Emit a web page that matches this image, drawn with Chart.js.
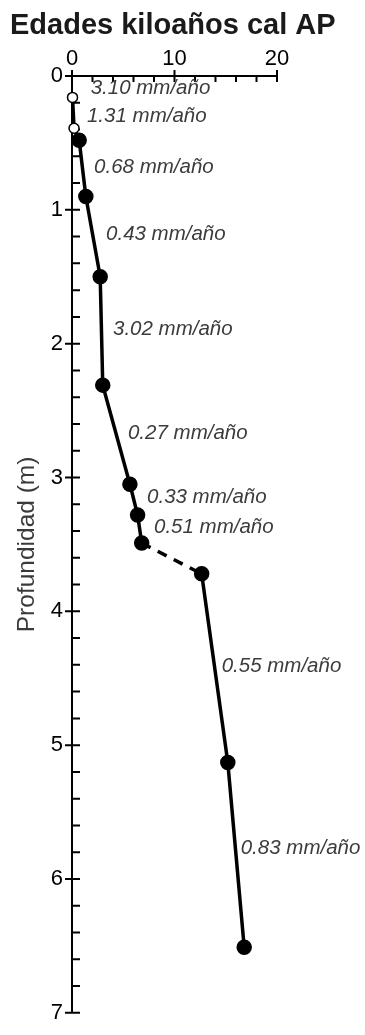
<!DOCTYPE html>
<html>
<head>
<meta charset="utf-8">
<script src="https://cdn.jsdelivr.net/npm/chart.js@4.4.0/dist/chart.umd.min.js"></script>
<style>
  html, body { margin: 0; padding: 0; background: #fff; }
  #wrap { width: 365px; height: 1035px; }
</style>
</head>
<body>
<div id="wrap"><canvas id="myChart" width="365" height="1035"></canvas></div>
<script>
'use strict';

// dated levels: age (ka cal BP) against depth (m)
var ages   = [0.05, 0.2, 0.7, 1.35, 2.75, 3.0, 5.65, 6.4, 6.8, 12.65, 15.2, 16.8];
var depths = [0.16, 0.39, 0.48, 0.9, 1.5, 2.31, 3.05, 3.28, 3.49, 3.72, 5.13, 6.51];
var openPoint = [true, true, false, false, false, false, false, false, false, false, false, false];
var gapFrom = 8; // dashed stretch starts at this point (hiatus)

// accumulation rates written next to the curve
var rates = ['3.10 mm/año', '1.31 mm/año', '0.68 mm/año', '0.43 mm/año', '3.02 mm/año',
             '0.27 mm/año', '0.33 mm/año', '0.51 mm/año', '0.55 mm/año', '0.83 mm/año'];
var rateAge   = [1.82, 1.46, 2.15, 3.32, 4.0, 5.46, 7.32, 8.0, 14.6, 16.46];
var rateDepth = [0.095, 0.30, 0.68, 1.18, 1.89, 2.67, 3.15, 3.375, 4.41, 5.77];

// labelled ticks
var ageTickLabels = [0, 10, 20];
var depthTickLabels = [0, 1, 2, 3, 4, 5, 6, 7];

var FONT = '"Liberation Sans", Arial, sans-serif';
Chart.defaults.font.family = FONT;
Chart.defaults.color = '#000';

function isLabelled(v, list) {
   var r = Math.round(v);
   return Math.abs(v - r) < 1e-6 && list.indexOf(r) >= 0;
}

//small tick marks, minor ones pointing into the plot
var tickMarks = {
   id: 'tickMarks',
   beforeDatasetsDraw: function (chart) {
      var ctx = chart.ctx, xs = chart.scales.x, ys = chart.scales.y;
      var top = chart.chartArea.top, left = chart.chartArea.left;
      ctx.save();
      ctx.strokeStyle = '#000';
      ctx.lineWidth = 2;
      ctx.beginPath();
      xs.ticks.forEach(function (t) {
         var px = xs.getPixelForValue(t.value);
         var major = isLabelled(t.value, ageTickLabels);
         ctx.moveTo(px, top - (major ? 6 : 0));
         ctx.lineTo(px, top + 6);
      });
      ys.ticks.forEach(function (t) {
         var py = ys.getPixelForValue(t.value);
         var major = isLabelled(t.value, depthTickLabels);
         ctx.moveTo(left - (major ? 7 : 0), py);
         ctx.lineTo(left + 8, py);
      });
      ctx.stroke();
      ctx.restore();
   }
};

var rateLabels = {
   id: 'rateLabels',
   afterDatasetsDraw: function (chart) {
      var ctx = chart.ctx, xs = chart.scales.x, ys = chart.scales.y;
      ctx.save();
      ctx.font = 'italic 20.5px ' + FONT;
      ctx.fillStyle = '#3c3c3c';
      ctx.textAlign = 'left';
      ctx.textBaseline = 'middle';
      rates.forEach(function (txt, i) {
         ctx.fillText(txt, xs.getPixelForValue(rateAge[i]), ys.getPixelForValue(rateDepth[i]));
      });
      ctx.restore();
   }
};

var topTitle = {
   id: 'topTitle',
   afterDraw: function (chart) {
      var ctx = chart.ctx;
      ctx.save();
      ctx.font = 'bold 29px ' + FONT;
      ctx.fillStyle = '#1a1a1a';
      ctx.textAlign = 'left';
      ctx.textBaseline = 'alphabetic';
      ctx.fillText('Edades kiloaños cal AP', 10, 34);
      ctx.restore();
   }
};

var points = ages.map(function (a, i) { return { x: a, y: depths[i] }; });

var ctx = document.getElementById('myChart').getContext('2d');
var myChart = new Chart(ctx, {
   type: 'scatter',
   data: {
      datasets: [{
         data: points,
         showLine: true,
         clip: false,
         borderColor: '#000',
         borderWidth: 3.5,
         pointRadius: openPoint.map(function (o) { return o ? 5 : 7; }),
         pointBackgroundColor: openPoint.map(function (o) { return o ? '#fff' : '#000'; }),
         pointBorderColor: '#000',
         pointBorderWidth: 1.5,
         segment: {
            borderDash: function (c) { return c.p0DataIndex === gapFrom ? [10, 8] : undefined; }
         }
      }]
   },
   options: {
      responsive: false,
      animation: false,
      layout: { padding: { left: 0, top: 0, right: 88, bottom: 3 } },
      plugins: { legend: { display: false }, tooltip: { enabled: false } },
      scales: {
         x: {
            position: 'top',
            min: 0, max: 20,
            afterFit: function (s) { s.height = 76; },
            grid: { display: false, drawTicks: false },
            border: { display: true, color: '#000', width: 2 },
            ticks: {
               stepSize: 2, autoSkip: false, maxRotation: 0, padding: 4,
               font: { size: 22 },
               callback: function (v) { return isLabelled(v, ageTickLabels) ? String(Math.round(v)) : ''; }
            }
         },
         y: {
            reverse: true,
            min: 0, max: 7,
            afterFit: function (s) { s.width = 72; },
            grid: { display: false, drawTicks: false },
            border: { display: true, color: '#000', width: 2 },
            title: {
               display: true, text: 'Profundidad (m)', color: '#3a3a3a',
               font: { size: 24.5 }, padding: { top: 13, bottom: 0 }
            },
            ticks: {
               stepSize: 0.2, autoSkip: false, padding: 9,
               font: { size: 22 },
               callback: function (v) { return isLabelled(v, depthTickLabels) ? String(Math.round(v)) : ''; }
            }
         }
      }
   },
   plugins: [tickMarks, rateLabels, topTitle]
});
</script>
</body>
</html>
